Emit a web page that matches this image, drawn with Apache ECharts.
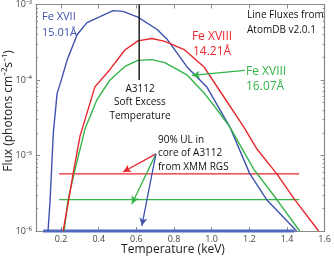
<!DOCTYPE html>
<html><head><meta charset="utf-8">
<script src="https://cdn.jsdelivr.net/npm/echarts@6/dist/echarts.min.js"></script>
<style>html,body{margin:0;padding:0;background:#fff}#c{width:334px;height:258px}</style>
</head><body><div id="c"></div>
<script>
// Fe XVII 15.01 Å
const blueT = [0.131,0.142,0.159,0.179,0.204,0.232,0.285,0.338,0.407,0.476,0.529,0.608,0.709,0.762,0.868,0.974,1.096,1.202,1.292,1.451];
const blueF = [1e-6,2.6e-6,2.0e-5,6.6e-5,1.05e-4,1.82e-4,3.98e-4,5.75e-4,6.9e-4,8.3e-4,8.1e-4,6.8e-4,4.7e-4,3.5e-4,1.5e-4,8.1e-5,2.4e-5,5.75e-6,2.6e-6,1.0e-6];
// Fe XVIII 14.21 Å
const redT = [0.211,0.240,0.264,0.301,0.380,0.460,0.539,0.608,0.683,0.751,0.857,0.958,1.064,1.170,1.239,1.345,1.441,1.568];
const redF = [1e-6,2.5e-6,5.75e-6,1.82e-5,8.1e-5,1.38e-4,2.5e-4,3.3e-4,3.55e-4,3.25e-4,2.5e-4,1.5e-4,6.0e-5,2.4e-5,1.23e-5,5.75e-6,2.6e-6,1.0e-6];
// Fe XVIII 16.07 Å
const greenT = [0.216,0.237,0.269,0.327,0.391,0.460,0.539,0.608,0.683,0.751,0.868,0.958,1.027,1.096,1.223,1.345,1.467];
const greenF = [1e-6,2.57e-6,5.75e-6,2.24e-5,5.5e-5,1.0e-4,1.51e-4,1.82e-4,1.86e-4,1.7e-4,1.17e-4,6.8e-5,4.1e-5,2.4e-5,6.6e-6,2.63e-6,1.0e-6];
// 90% upper limits (XMM RGS)
const ulRed = 5.7e-6, ulGreen = 2.6e-6, ulBlue = 1.0e-6;
const ulRangeRG = [0.19, 1.465];
const ulRangeB = [0.105, 1.44];
// A3112 soft excess temperature
const softT = 0.615;
const softRange = [1e-3, 1e-4];
// arrows
const arrowStart = [0.704, 1.05e-5];
const arrowRed = [0.529, 6.04e-6];
const arrowGreen = [0.576, 2.28e-6];
const arrowBlue = [0.629, 1.17e-6];
const labelArrowGreen = [[1.176, 1.34e-4], [0.895, 1.15e-4]];
// axis ticks
const xTicks = [0.2,0.4,0.6,0.8,1.0,1.2,1.4,1.6];
const yDecades = [-6,-5,-4,-3];
const minorMult = [2,3,4,5,6,7,8,9];
const supMap = {'-':'⁻','0':'⁰','1':'¹','2':'²','3':'³','4':'⁴','5':'⁵','6':'⁶','7':'⁷','8':'⁸','9':'⁹'};

const BLUE = '#3e52ad', RED = '#e8262d', GREEN = '#35b44a';
const FONT = 'Open Sans';
const AX = '#8a8a8a';

const zip = (a,b) => a.map((v,i)=>[v,b[i]]);
const minorVals = [];
yDecades.slice(0,-1).forEach(d => minorMult.forEach(m => minorVals.push(Math.log10(m*Math.pow(10,d)))));

const chart = echarts.init(document.getElementById('c'), null, {renderer:'canvas'});
const xBase = {type:'value', min:0.067, max:1.6, splitLine:{show:false},
  axisLine:{show:true, onZero:false, lineStyle:{color:AX, width:1.2}}};
const txt = (x,y,s,color,size,align) => ({type:'text', x:x, y:y, silent:true,
  style:{text:s, fill:color, font:`${size}px "${FONT}"`, textAlign:align||'left', textVerticalAlign:'middle'}});

chart.setOption({
  animation:false,
  grid:{left:36, right:9, top:4, bottom:27, containLabel:false},
  xAxis:[
    Object.assign({}, xBase, {position:'bottom',
      axisTick:{show:true, inside:true, length:4, customValues:xTicks, lineStyle:{color:AX}},
      axisLabel:{show:true, customValues:xTicks, margin:4, color:'#444', fontFamily:FONT, fontSize:9,
        formatter:v=>v.toFixed(1)}}),
    Object.assign({}, xBase, {position:'top',
      axisTick:{show:true, inside:true, length:4, customValues:xTicks, lineStyle:{color:AX}},
      axisLabel:{show:false}})
  ],
  yAxis:[
    {type:'log', logBase:10, min:1e-6, max:1e-3, position:'left', splitLine:{show:false},
      axisLine:{show:true, onZero:false, lineStyle:{color:AX, width:1.2}},
      axisTick:{show:true, inside:true, length:4, lineStyle:{color:AX}},
      axisLabel:{margin:4, color:'#444', fontFamily:FONT, fontSize:9,
        formatter:v=>{const e=Math.round(Math.log10(v)); return '10'+String(e).split('').map(c=>supMap[c]).join('');}}},
    {type:'value', min:-6, max:-3, position:'left', splitLine:{show:false},
      axisLine:{show:false}, axisLabel:{show:false},
      axisTick:{show:true, inside:true, length:2, customValues:minorVals, lineStyle:{color:AX}}},
    {type:'value', min:-6, max:-3, position:'right', splitLine:{show:false},
      axisLine:{show:true, onZero:false, lineStyle:{color:AX, width:1.2}}, axisLabel:{show:false},
      axisTick:{show:true, inside:true, length:4, customValues:yDecades, lineStyle:{color:AX}}},
    {type:'value', min:-6, max:-3, position:'right', splitLine:{show:false},
      axisLine:{show:false}, axisLabel:{show:false},
      axisTick:{show:true, inside:true, length:2, customValues:minorVals, lineStyle:{color:AX}}}
  ],
  series:[
    {type:'line', data:[[ulRangeB[0],ulBlue],[ulRangeB[1],ulBlue]], symbol:'none', clip:false,
      lineStyle:{color:'#5068bd', width:3}, z:3},
    {type:'line', data:[[ulRangeRG[0],ulRed],[ulRangeRG[1],ulRed]], symbol:'none',
      lineStyle:{color:RED, width:1.3},
      markLine:{silent:true, symbol:['none','arrow'], symbolSize:[6,8], label:{show:false},
        lineStyle:{color:RED, width:1.3, type:'solid'},
        data:[[{coord:arrowStart},{coord:arrowRed}]]}},
    {type:'line', data:[[ulRangeRG[0],ulGreen],[ulRangeRG[1],ulGreen]], symbol:'none',
      lineStyle:{color:GREEN, width:1.3},
      markLine:{silent:true, symbol:['none','arrow'], symbolSize:[6,8], label:{show:false},
        lineStyle:{color:GREEN, width:1.3, type:'solid'},
        data:[[{coord:arrowStart},{coord:arrowGreen}],[{coord:labelArrowGreen[0]},{coord:labelArrowGreen[1]}]]}},
    {type:'line', data:zip(blueT,blueF), symbol:'none', lineStyle:{color:BLUE, width:1.4},
      markLine:{silent:true, symbol:['none','arrow'], symbolSize:[6,8], label:{show:false},
        lineStyle:{color:BLUE, width:1.3, type:'solid'},
        data:[[{coord:arrowStart},{coord:arrowBlue}]]}},
    {type:'line', data:zip(greenT,greenF), symbol:'none', lineStyle:{color:GREEN, width:1.4}},
    {type:'line', data:zip(redT,redF), symbol:'none', lineStyle:{color:RED, width:1.4}},
    {type:'line', data:[[softT,softRange[0]],[softT,softRange[1]]], symbol:'none',
      lineStyle:{color:'#111', width:1.4}}
  ],
  graphic:[
    txt(42,17,'Fe XVII',BLUE,11), txt(42,33,'15.01Å',BLUE,11),
    txt(212,37,'Fe XVIII',RED,12,'center'), txt(212,52,'14.21Å',RED,12,'center'),
    txt(246,72,'Fe XVIII',GREEN,12), txt(246,87,'16.07Å',GREEN,12),
    txt(247,15,'Line Fluxes from','#111',10), txt(247,30,'AtomDB v2.0.1','#111',10),
    txt(140,89,'A3112','#111',10,'center'), txt(140,102,'Soft Excess','#111',10,'center'),
    txt(140,116,'Temperature','#111',10,'center'),
    txt(158,140,'90% UL in','#111',10), txt(158,153,'core of A3112','#111',10),
    txt(158,167,'from XMM RGS','#111',10),
    txt(173,250,'Temperature (keV)','#222',12,'center'),
    {type:'text', x:9, y:111, rotation:Math.PI/2, silent:true,
      style:{text:'Flux (photons cm⁻²s⁻¹)', fill:'#222', font:`12px "${FONT}"`, textAlign:'center', textVerticalAlign:'middle'}}
  ]
});
</script></body></html>
